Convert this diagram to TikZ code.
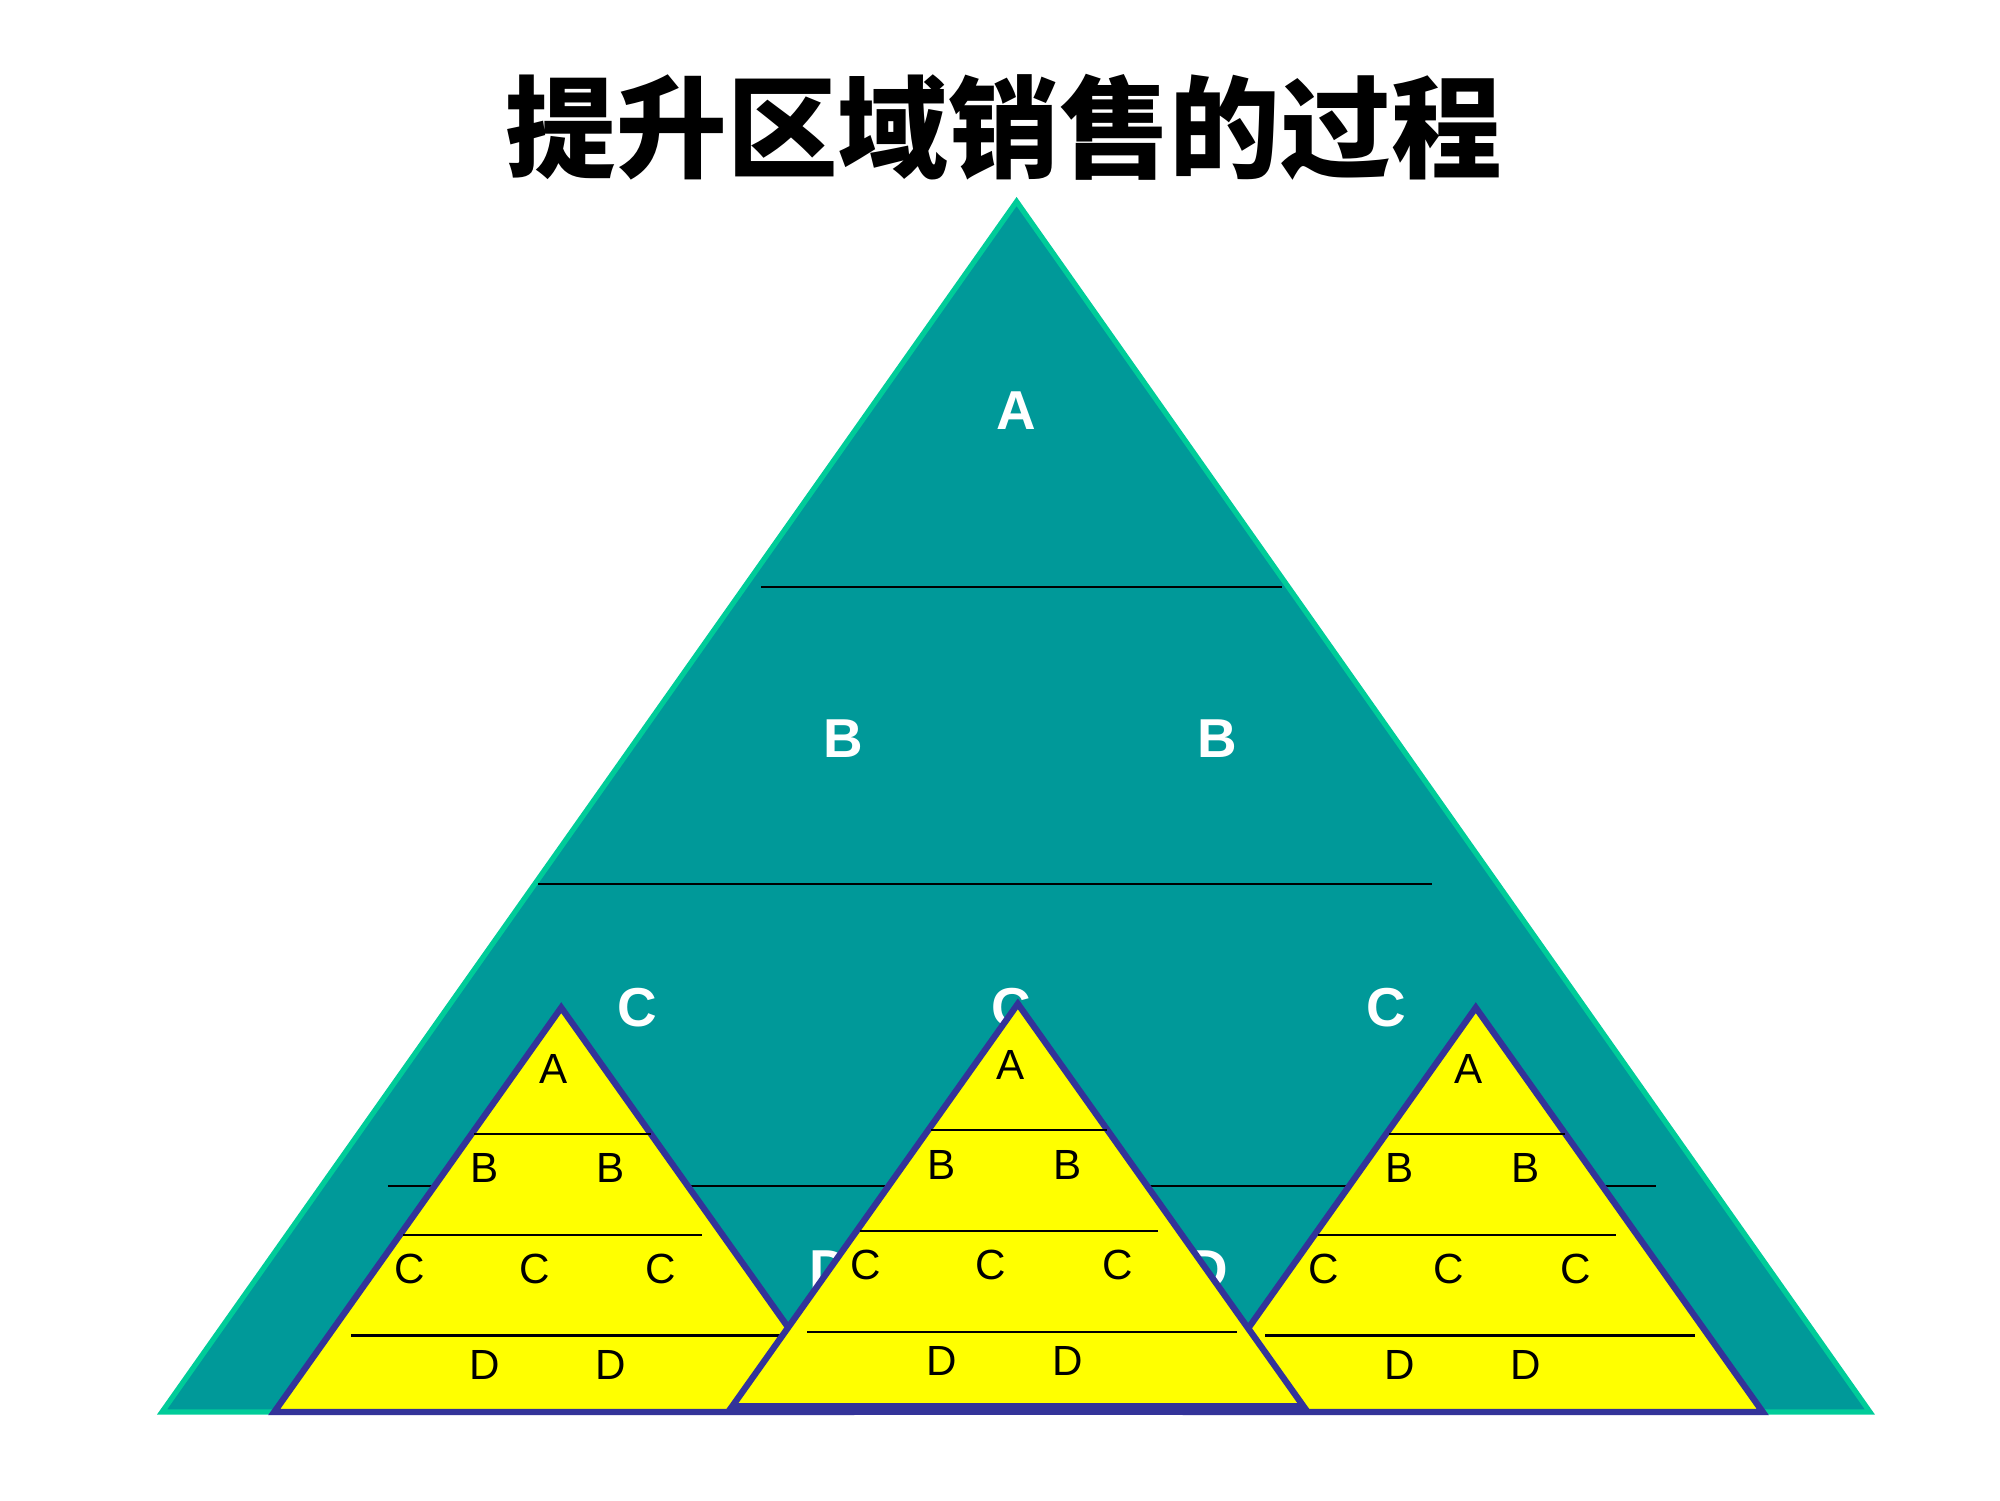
\documentclass[tikz,border=0pt]{standalone}
\usepackage{fontspec}
\setmainfont{Liberation Sans}
\newfontfamily\cjk{Noto Sans CJK SC}
\definecolor{tealfill}{HTML}{009999}
\definecolor{tealline}{HTML}{00CC99}
\definecolor{pyrblue}{HTML}{333399}
\definecolor{pyryellow}{HTML}{FFFF00}
\tikzset{
  big/.style={fill=tealfill,draw=tealline,line width=1.5pt,line join=miter},
  ytri/.style={fill=pyryellow,draw=pyrblue,line width=1.8pt,line join=miter},
  baseband/.style={draw=pyrblue,line width=3.4pt,line cap=butt},
  rule/.style={draw=black,line width=0.6pt},
  wlab/.style={text=white,font=\fontsize{15.6}{16}\selectfont\bfseries,inner sep=0pt},
  blab/.style={text=black,font=\fontsize{12}{12}\selectfont,inner sep=0pt},
  ypyr/.pic={
    \path[ytri] (0,0) coordinate (-apex) -- (-225,317) coordinate (-bl) -- (225,317) coordinate (-br) -- cycle;
    \coordinate (-l1a) at (-68,99);  \coordinate (-l1b) at (70,99);
    \coordinate (-l2a) at (-124,178); \coordinate (-l2b) at (110,178);
    \coordinate (-l3a) at (-165,257); \coordinate (-l3b) at (172,257);
    \draw[rule] (-l1a) -- (-l1b);
    \draw[rule] (-l2a) -- (-l2b);
    \draw[rule] (-l3a) -- (-l3b);
    \node[blab] (-A) at (-6,48) {A};
    \node[blab] (-B1) at (-60,126) {B};
    \node[blab] (-B2) at (39,126) {B};
    \node[blab] (-C1) at (-119,205) {C};
    \node[blab] (-C2) at (-21,205) {C};
    \node[blab] (-C3) at (78,205) {C};
    \node[blab] (-D1) at (-60,280) {D};
    \node[blab] (-D2) at (39,280) {D};
  }
}
\begin{document}
\begin{tikzpicture}[x=0.012755cm,y=-0.012755cm]
\useasboundingbox (0,0) rectangle (1568,1176);
% title
\node[anchor=base,inner sep=0pt,font=\cjk\bfseries\fontsize{31.5}{32}\selectfont] (title) at (787,133) {提升区域销售的过程};
% big pyramid
\path[big] (797,158) coordinate (apex) -- (127,1107) coordinate (bl) -- (1466,1107) coordinate (br) -- cycle;
\coordinate (r1a) at (597,460);  \coordinate (r1b) at (1005,460);
\coordinate (r2a) at (422,693);  \coordinate (r2b) at (1123,693);
\coordinate (r3a) at (304,930);  \coordinate (r3b) at (1298,930);
\draw[rule] (r1a) -- (r1b);
\draw[rule] (r2a) -- (r2b);
\draw[rule] (r3a) -- (r3b);
\node[wlab] (bA) at (797,322) {A};
\node[wlab] (bB1) at (661,579) {B};
\node[wlab] (bB2) at (954,579) {B};
\node[wlab] (bC1) at (500,790) {C};
\node[wlab] (bC2) at (793,790) {C};
\node[wlab] (bC3) at (1087,790) {C};
\node[wlab] (bD1) at (650,995) {D};
\node[wlab] (bD2) at (947,995) {D};
% small pyramids
\pic (left) at (440,790) {ypyr};
\pic (right) at (1157,790) {ypyr};
\pic (mid) at (798,787) {ypyr};
\coordinate (mbl) at (573,1105);
\coordinate (mbr) at (1023,1105);
\draw[baseband] (mbl) -- (mbr);
\end{tikzpicture}
\end{document}
